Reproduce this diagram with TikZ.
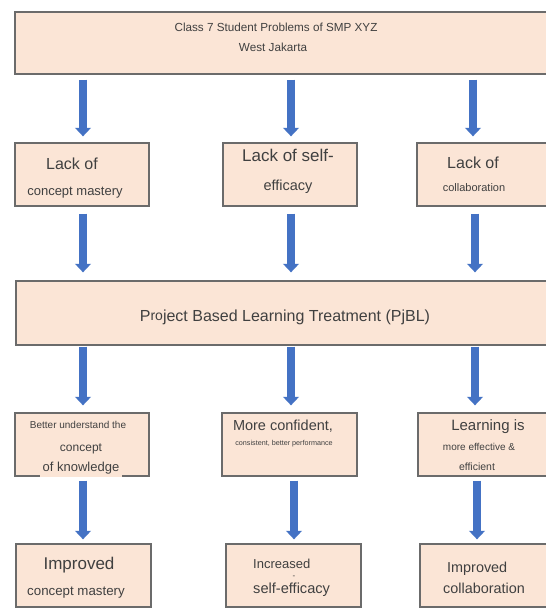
\documentclass[tikz,border=0pt]{standalone}
\usepackage{fontspec}
\setmainfont{Liberation Sans}
\usetikzlibrary{arrows.meta,calc}
\definecolor{peach}{HTML}{FBE5D6}
\definecolor{bordergray}{HTML}{6B6B6B}
\definecolor{arrowblue}{HTML}{4472C4}
\definecolor{txtgray}{HTML}{404040}
\newcommand{\fsz}[1]{\fontsize{#1}{#1}\selectfont}
\begin{document}
\begin{tikzpicture}[x=1pt,y=-1pt,
  box/.style={draw=bordergray, line width=1.3pt, fill=peach, inner sep=0pt, rectangle},
  lbl/.style={text=txtgray, inner sep=0pt, anchor=base},
  lblw/.style={text=txtgray, inner sep=0pt, anchor=base west},
  arr/.style={draw=arrowblue, line width=7.5pt, -{Triangle[width=15.5pt,length=8.5pt]}}]
\useasboundingbox (0,0) rectangle (546,608);
\fill[white] (0,0) rectangle (546,608);

% column coordinates for connectors
\coordinate (x1) at (83,0);
\coordinate (x2) at (291,0);
\coordinate (x2b) at (294,0);
\coordinate (x3) at (473,0);
\coordinate (x3b) at (475,0);
\coordinate (x3c) at (477,0);

% boxes
\node[box, minimum width=545, minimum height=62] (top) at (287.5,43) {};
\node[box, minimum width=134, minimum height=63] (b21) at (82,174.5) {};
\node[box, minimum width=134, minimum height=63] (b22) at (290,174.5) {};
\node[box, minimum width=143, minimum height=63] (b23) at (488.5,174.5) {};
\node[box, minimum width=544, minimum height=64] (pjbl) at (288,313) {};
\node[box, minimum width=134, minimum height=63] (b41) at (82,444.5) {};
\node[box, minimum width=135, minimum height=63] (b42) at (289.5,444.5) {};
\node[box, minimum width=142, minimum height=63] (b43) at (489,444.5) {};
\node[box, minimum width=135, minimum height=63] (b51) at (83.5,575.5) {};
\node[box, minimum width=135, minimum height=63] (b52) at (293.5,575.5) {};
\node[box, minimum width=140, minimum height=63] (b53) at (490,575.5) {};

% texts
\node[lbl] (t1) at (276,31.2) {\fsz{11.7}Class 7 Student Problems of SMP XYZ};
\node[lbl] (t2) at (273,51.2) {\fsz{11.7}West Jakarta};

\node[lbl] (t211) at (72,169.8) {\fsz{16}Lack of};
\node[lbl] (t212) at (75,195.7) {\fsz{13}concept mastery};
\node[lbl] (t221) at (288,161) {\fsz{17}Lack of self-};
\node[lbl] (t222) at (288,190.2) {\fsz{14.5}efficacy};
\node[lbl] (t231) at (473,168.8) {\fsz{16}Lack of};
\node[lbl] (t232) at (474,191) {\fsz{11}collaboration};

\node[lbl] (tp) at (285,321.8) {\fsz{16}P\raisebox{1.5pt}{\fsz{14}ro}ject Based Learning Treatment (PjBL)};

\node[lbl] (t411) at (78,428.6) {\fsz{10}Better understand the};
\node[lbl] (t412) at (81,451.3) {\fsz{12}concept};
\node[lbl, fill=peach, inner xsep=3pt, inner ysep=3pt] (t413) at (81,471.7) {\fsz{13}of knowledge};
\node[lbl] (t421) at (283,430.2) {\fsz{14.5}More confident,};
\node[lbl] (t422) at (284,445.6) {\fsz{7.2}consistent, better performance};
\node[lbl] (t431) at (488,430.4) {\fsz{15}Learning is};
\node[lbl] (t432) at (479,450.6) {\fsz{10}more effective \&};
\node[lbl] (t433) at (477,470.8) {\fsz{10.5}efficient};

\node[lbl] (t511) at (79,569.1) {\fsz{17}Improved};
\node[lbl] (t512) at (76,595.8) {\fsz{13.3}concept mastery};
\node[lblw] (t521) at (253,568.7) {\fsz{13}Increased};
\node[lbl] (t522) at (294,578) {\fsz{8}-};
\node[lblw] (t523) at (253,593.3) {\fsz{14.6}self-efficacy};
\node[lblw] (t531) at (447,572.2) {\fsz{14.4}Improved};
\node[lblw] (t532) at (443,593.2) {\fsz{14.4}collaboration};

% connectors
\draw[arr, shorten <=5pt, shorten >=6pt] (top.south -| x1) -- (b21.north -| x1);
\draw[arr, shorten <=5pt, shorten >=6pt] (top.south -| x2) -- (b22.north -| x2);
\draw[arr, shorten <=5pt, shorten >=6pt] (top.south -| x3) -- (b23.north -| x3);
\draw[arr, shorten <=7pt, shorten >=8pt] (b21.south -| x1) -- (pjbl.north -| x1);
\draw[arr, shorten <=7pt, shorten >=8pt] (b22.south -| x2) -- (pjbl.north -| x2);
\draw[arr, shorten <=7pt, shorten >=8pt] (b23.south -| x3b) -- (pjbl.north -| x3b);
\draw[arr, shorten <=1pt, shorten >=7pt] (pjbl.south -| x1) -- (b41.north -| x1);
\draw[arr, shorten <=1pt, shorten >=7pt] (pjbl.south -| x2) -- (b42.north -| x2);
\draw[arr, shorten <=1pt, shorten >=7pt] (pjbl.south -| x3b) -- (b43.north -| x3b);
\draw[arr, shorten <=4pt, shorten >=4pt] (b41.south -| x1) -- (b51.north -| x1);
\draw[arr, shorten <=4pt, shorten >=4pt] (b42.south -| x2b) -- (b52.north -| x2b);
\draw[arr, shorten <=4pt, shorten >=4pt] (b43.south -| x3c) -- (b53.north -| x3c);
\end{tikzpicture}
\end{document}
